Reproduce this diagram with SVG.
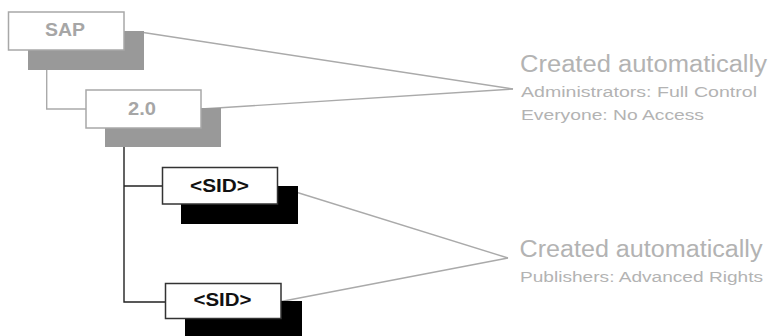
<svg xmlns="http://www.w3.org/2000/svg" width="769" height="336" viewBox="0 0 769 336">
<style>
.bg{fill:#ffffff}
.gbox{fill:#ffffff;stroke:#a8a8a8;stroke-width:1.5}
.gsh{fill:#999999}
.kbox{fill:#ffffff;stroke:#333333;stroke-width:1.5}
.ksh{fill:#000000}
.gl{stroke:#aaaaaa;stroke-width:1.4;fill:none}
.kl{stroke:#222222;stroke-width:1.4;fill:none}
.gt{font-family:"Liberation Sans",Arial,sans-serif;font-weight:bold;fill:#a6a6a6;text-anchor:middle}
.kt{font-family:"Liberation Sans",Arial,sans-serif;font-weight:bold;fill:#111111;text-anchor:middle}
.nt{font-family:"Liberation Sans",Arial,sans-serif;fill:#b3b3b3}
</style>
<rect class="bg" x="0" y="0" width="769" height="336"/>
<g id="connectors">
<polyline class="gl" points="46.7,70 46.7,109 86,109"/>
<polyline class="kl" points="124,128 124,302 165,302"/>
<line class="kl" x1="124" y1="186" x2="162" y2="186"/>
<line class="gl" x1="140" y1="32" x2="513" y2="89"/>
<line class="gl" x1="201" y1="109" x2="513" y2="89"/>
<line class="gl" x1="278" y1="186.5" x2="508" y2="258"/>
<line class="gl" x1="281" y1="301.5" x2="508" y2="258"/>
</g>
<g id="sap">
<rect class="gsh" x="28" y="31" width="116" height="39"/>
<rect class="gbox" x="8.5" y="12" width="115.5" height="38"/>
<text class="gt" x="65" y="36" font-size="18.5" textLength="40" lengthAdjust="spacingAndGlyphs">SAP</text>
</g>
<g id="v20">
<rect class="gsh" x="105" y="108" width="116" height="39"/>
<rect class="gbox" x="86" y="90" width="115" height="38"/>
<text class="gt" x="142" y="115" font-size="19" textLength="28" lengthAdjust="spacingAndGlyphs">2.0</text>
</g>
<g id="sid1">
<rect class="ksh" x="181" y="186" width="117" height="38"/>
<rect class="kbox" x="162.5" y="167.5" width="115" height="36.5"/>
<text class="kt" x="219.5" y="192" font-size="17.5" textLength="59" lengthAdjust="spacingAndGlyphs">&lt;SID&gt;</text>
</g>
<g id="sid2">
<rect class="ksh" x="185" y="301" width="117" height="40"/>
<rect class="kbox" x="165.5" y="283.5" width="115.5" height="35"/>
<text class="kt" x="222.5" y="306" font-size="17.5" textLength="58" lengthAdjust="spacingAndGlyphs">&lt;SID&gt;</text>
</g>
<g id="note1">
<text class="nt" x="520" y="72" font-size="23" textLength="247" lengthAdjust="spacingAndGlyphs">Created automatically</text>
<text class="nt" x="521" y="97" font-size="15.5" textLength="236" lengthAdjust="spacingAndGlyphs">Administrators: Full Control</text>
<text class="nt" x="521" y="120" font-size="15.5" textLength="183" lengthAdjust="spacingAndGlyphs">Everyone: No Access</text>
</g>
<g id="note2">
<text class="nt" x="519.5" y="257" font-size="23" textLength="243" lengthAdjust="spacingAndGlyphs">Created automatically</text>
<text class="nt" x="520" y="282" font-size="15.5" textLength="243" lengthAdjust="spacingAndGlyphs">Publishers: Advanced Rights</text>
</g>
</svg>
